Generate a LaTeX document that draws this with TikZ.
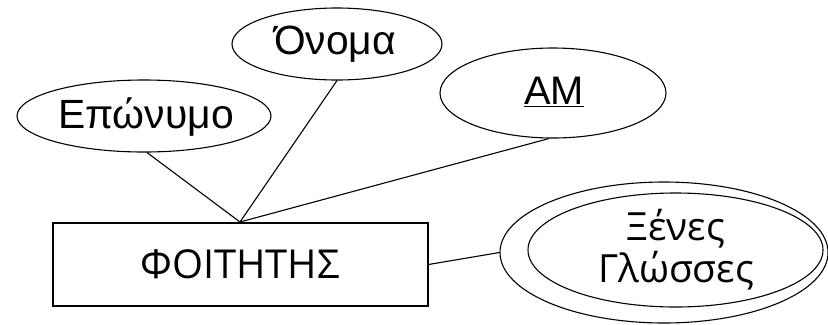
\documentclass[tikz,border=0pt]{standalone}
\usepackage{fontspec}
\setmainfont{Liberation Sans}
\newfontfamily\osans{Open Sans}
\usetikzlibrary{shapes.geometric}
\begin{document}
\begin{tikzpicture}[x=1bp,y=-1bp,
  attr/.style={draw, ellipse, line width=1.1bp, inner sep=0pt},
  ent/.style={draw, rectangle, line width=1.1bp, inner sep=0pt},
  conn/.style={line width=1.1bp}]
\useasboundingbox[fill=white] (0,0) rectangle (828,324);
\node[ent, minimum width=375bp, minimum height=83bp] (st) at (240.5,264.5) {};
\node[font=\osans\fontsize{40}{46}\selectfont] at (240,264) {ΦΟΙΤΗΤΗΣ};
\node[attr, minimum width=254bp, minimum height=72bp] (ep) at (144,116) {};
\node[font=\fontsize{41}{46}\selectfont] at (146,117) {Επώνυμο};
\node[attr, minimum width=210bp, minimum height=72bp] (on) at (337,44) {};
\node[font=\fontsize{41}{46}\selectfont] at (335,44) {Όνομα};
\node[attr, minimum width=226bp, minimum height=90bp] (am) at (553,93) {};
\node[font=\fontsize{40}{46}\selectfont] at (554,92) {\underline{AM}};
\node[attr, minimum width=328bp, minimum height=141bp] (xo) at (664,252.5) {};
\node[attr, minimum width=295bp, minimum height=114bp] (xi) at (675.5,250) {};
\node[align=center, font=\osans\fontsize{39}{42}\selectfont] at (676,250) {Ξένες\\Γλώσσες};
\coordinate (c) at (240,222);
\draw[conn] (ep.south) ++(3,0) coordinate (e1);
\draw[conn] (e1) -- (c);
\draw[conn] (on.south) -- (c);
\draw[conn] (c) -- (am.265);
\draw[conn] (st.east) -- (xo.west);
\end{tikzpicture}
\end{document}
